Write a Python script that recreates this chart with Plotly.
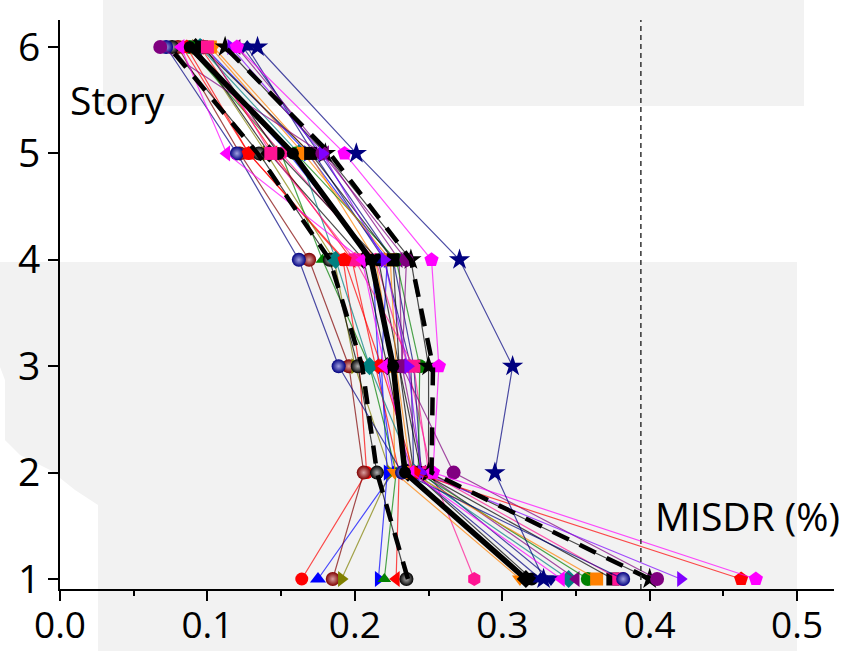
import plotly.graph_objects as go

# ---------------- data ----------------
stories = [1, 2, 3, 4, 5, 6]
x_ticks = [0.0, 0.1, 0.2, 0.3, 0.4, 0.5]
x_tick_labels = ["0.0", "0.1", "0.2", "0.3", "0.4", "0.5"]
misdr_limit = 0.394

# inter-story drift ratio (%) per record, stories 1..6
gm_red_circle = [0.164, 0.208, 0.203, 0.192, 0.128, 0.083]
gm_blue_tri_up = [0.175, 0.226, 0.216, 0.212, 0.155, 0.090]
gm_maroon_ball = [0.185, 0.206, 0.196, 0.169, 0.122, 0.080]
gm_olive_tri_right = [0.191, 0.224, 0.200, 0.186, 0.140, 0.092]
gm_blue_tri_right = [0.216, 0.222, 0.218, 0.222, 0.168, 0.098]
gm_green_tri_up = [0.220, 0.228, 0.210, 0.178, 0.150, 0.087]
gm_red_tri_left = [0.228, 0.230, 0.214, 0.198, 0.145, 0.095]
gm_black_ball = [0.235, 0.215, 0.202, 0.183, 0.135, 0.076]
gm_pink_hexagon = [0.281, 0.252, 0.236, 0.214, 0.150, 0.090]
gm_orange_tri_down = [0.312, 0.227, 0.226, 0.214, 0.169, 0.104]
gm_black_diamond = [0.316, 0.236, 0.222, 0.206, 0.142, 0.092]
gm_black_circle = [0.320, 0.240, 0.230, 0.216, 0.148, 0.098]
gm_navy_tri_up = [0.326, 0.240, 0.238, 0.220, 0.172, 0.127]
gm_navy_tri_down = [0.333, 0.245, 0.240, 0.226, 0.176, 0.124]
gm_teal_diamond = [0.345, 0.240, 0.210, 0.187, 0.162, 0.095]
gm_purple_tri_left = [0.350, 0.246, 0.232, 0.230, 0.180, 0.120]
gm_green_circle = [0.358, 0.243, 0.244, 0.228, 0.160, 0.088]
gm_orange_square = [0.364, 0.238, 0.228, 0.224, 0.165, 0.102]
gm_black_square = [0.375, 0.245, 0.230, 0.226, 0.170, 0.096]
gm_pink_square = [0.379, 0.250, 0.240, 0.200, 0.143, 0.100]
gm_navy_ball = [0.382, 0.232, 0.189, 0.162, 0.120, 0.072]
gm_black_star = [0.400, 0.250, 0.250, 0.238, 0.180, 0.112]
gm_purple_circle = [0.405, 0.267, 0.232, 0.235, 0.178, 0.068]
gm_violet_tri_right = [0.421, 0.245, 0.236, 0.220, 0.178, 0.116]
gm_red_pentagon = [0.462, 0.240, 0.218, 0.193, 0.128, 0.086]
gm_magenta_pentagon = [0.472, 0.253, 0.257, 0.252, 0.193, 0.120]
gm_navy_star = [0.328, 0.295, 0.307, 0.271, 0.201, 0.134]
gm_magenta_tri_left = [0.340, 0.238, 0.220, 0.205, 0.113, 0.082]

mean_drift = [0.316, 0.234, 0.226, 0.211, 0.158, 0.088]
mean_minus_std = [0.236, 0.215, 0.205, 0.183, 0.134, 0.074]
mean_plus_std = [0.400, 0.252, 0.253, 0.238, 0.183, 0.112]

# ---------------- styles ----------------
# (values, symbol, colour, size, ball highlight colour or None)
series = [
    (gm_red_circle, "circle", "#ff0000", 13, None),
    (gm_blue_tri_up, "triangle-up", "#0000ff", 14, None),
    (gm_maroon_ball, "circle", "#800000", 14, "#d9a0a0"),
    (gm_olive_tri_right, "triangle-right", "#808000", 14, None),
    (gm_blue_tri_right, "triangle-right", "#0000ff", 14, None),
    (gm_green_tri_up, "triangle-up", "#008000", 12, None),
    (gm_red_tri_left, "triangle-left", "#ff0000", 14, None),
    (gm_black_ball, "circle", "#000000", 14, "#b0b0b0"),
    (gm_pink_hexagon, "hexagon", "#ff1493", 14, None),
    (gm_orange_tri_down, "triangle-down", "#ff8000", 14, None),
    (gm_black_diamond, "diamond", "#000000", 14, None),
    (gm_black_circle, "circle", "#000000", 13, None),
    (gm_navy_tri_up, "triangle-up", "#000080", 14, None),
    (gm_navy_tri_down, "triangle-down", "#000080", 14, None),
    (gm_teal_diamond, "diamond", "#008080", 14, None),
    (gm_purple_tri_left, "triangle-left", "#800080", 14, None),
    (gm_green_circle, "circle", "#008000", 14, None),
    (gm_orange_square, "square", "#ff8000", 13, None),
    (gm_black_square, "square", "#000000", 13, None),
    (gm_pink_square, "square", "#ff1493", 13, None),
    (gm_navy_ball, "circle", "#000080", 14, "#a0a0e0"),
    (gm_black_star, "star", "#000000", 16, None),
    (gm_purple_circle, "circle", "#800080", 14, None),
    (gm_violet_tri_right, "triangle-right", "#8000ff", 14, None),
    (gm_red_pentagon, "pentagon", "#ff0000", 15, None),
    (gm_magenta_pentagon, "pentagon", "#ff00ff", 15, None),
    (gm_navy_star, "star", "#000080", 16, None),
    (gm_magenta_tri_left, "triangle-left", "#ff00ff", 14, None),
]


def rgba(hex_color, a):
    h = hex_color.lstrip("#")
    r, g, b = int(h[0:2], 16), int(h[2:4], 16), int(h[4:6], 16)
    return f"rgba({r},{g},{b},{a})"


fig = go.Figure()

for vals, sym, col, size, hi in series:
    marker = dict(symbol=sym, size=size, color=col, line=dict(width=0))
    if hi:
        marker["gradient"] = dict(type="radial", color=hi)
    fig.add_trace(go.Scatter(
        x=vals, y=stories, mode="lines+markers",
        line=dict(color=rgba(col, 0.7), width=1.2),
        marker=marker,
        showlegend=False, hoverinfo="x+y",
    ))

for vals in (mean_minus_std, mean_plus_std):
    fig.add_trace(go.Scatter(
        x=vals, y=stories, mode="lines",
        line=dict(color="black", width=4.5, dash="18px,12px"),
        showlegend=False,
    ))

fig.add_trace(go.Scatter(
    x=mean_drift, y=stories, mode="lines+markers",
    line=dict(color="black", width=5.5),
    marker=dict(symbol="circle", size=12, color="black"),
    showlegend=False,
))

# ---------------- layout ----------------
L, R, T, B = 60, 17, 20, 62
W, H = 851, 651
pw, ph = W - L - R, H - T - B


def px(xp):
    return (xp - L) / pw


def py(yp):
    return (H - B - yp) / ph


grey = "#f2f2f2"
bottom_pts = [(0, 262), (797, 262), (797, 651), (98, 651), (98, 505), (75, 490),
              (50, 470), (20, 455), (5, 440), (5, 380), (0, 367)]
path = "M " + " L ".join(f"{px(a):.4f},{py(b):.4f}" for a, b in bottom_pts) + " Z"

shapes = [
    dict(type="rect", xref="paper", yref="paper", x0=px(103), x1=px(804), y0=py(106), y1=py(0),
         fillcolor=grey, line=dict(width=0), layer="below"),
    dict(type="path", xref="paper", yref="paper", path=path,
         fillcolor=grey, line=dict(width=0), layer="below"),
    dict(type="line", xref="x", yref="paper", x0=misdr_limit, x1=misdr_limit, y0=0, y1=1,
         line=dict(color="#333333", width=1.5, dash="5px,4px"), layer="above"),
    dict(type="line", xref="paper", yref="paper", x0=0, x1=0, y0=py(601), y1=0,
         line=dict(color="black", width=2)),
]

font_family = "Open Sans, Liberation Sans, sans-serif"

fig.update_layout(
    width=W, height=H,
    margin=dict(l=L, r=R, t=T, b=B, autoexpand=False),
    paper_bgcolor="white",
    plot_bgcolor="rgba(0,0,0,0)",
    font=dict(family=font_family, color="black", size=40),
    shapes=shapes,
    annotations=[
        dict(text="Story", xref="paper", yref="paper", x=px(68), y=py(100),
             xanchor="left", yanchor="middle", showarrow=False,
             font=dict(size=39, family=font_family, color="black")),
        dict(text="MISDR (%)", xref="paper", yref="paper", x=px(653), y=py(515),
             xanchor="left", yanchor="middle", showarrow=False,
             font=dict(size=39, family=font_family, color="black")),
    ],
    xaxis=dict(
        range=[0, 0.525], tickvals=x_ticks, ticktext=x_tick_labels,
        showgrid=False, zeroline=False, showline=True, linecolor="black", linewidth=2,
        ticks="outside", ticklen=10, tickwidth=2, tickcolor="black",
        minor=dict(dtick=0.05, tick0=0, ticks="outside", ticklen=5, tickwidth=2, tickcolor="black"),
        tickfont=dict(size=37, family=font_family),
        ticklabelstandoff=-7,
        automargin=False, fixedrange=True,
    ),
    yaxis=dict(
        range=[0.906, 6.254], tickvals=stories,
        showgrid=False, zeroline=False, showline=True, linecolor="black", linewidth=2,
        ticks="outside", ticklen=10, tickwidth=2, tickcolor="black",
        tickfont=dict(size=39, family=font_family),
        automargin=False, fixedrange=True,
    ),
)

fig.write_html(
    "out.html",
    config={"displayModeBar": False},
    post_script="document.body.style.margin='0';document.body.style.overflow='hidden';",
)
